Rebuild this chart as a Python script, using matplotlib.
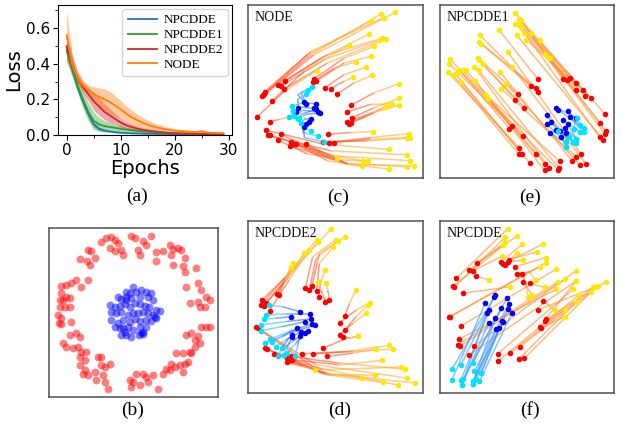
import matplotlib
matplotlib.use("Agg")
import matplotlib.pyplot as plt
import numpy as np
from matplotlib.collections import LineCollection
from matplotlib.colors import LinearSegmentedColormap
from matplotlib.ticker import MultipleLocator

# ---- (a) loss curves, mean and half band width per epoch ----
epochs = np.arange(30)
loss_npcdde = [0.49, 0.37, 0.27, 0.19, 0.12, 0.06, 0.035, 0.025, 0.02, 0.016, 0.013, 0.011, 0.01, 0.009, 0.008,
               0.007, 0.007, 0.006, 0.006, 0.005, 0.005, 0.005, 0.005, 0.004, 0.004, 0.004, 0.004, 0.004, 0.004, 0.004]
band_npcdde = [0.03, 0.02, 0.02, 0.02, 0.02, 0.015, 0.01, 0.008, 0.006, 0.005, 0.004, 0.004, 0.003, 0.003, 0.003,
               0.003, 0.003, 0.003, 0.003, 0.003, 0.003, 0.003, 0.003, 0.003, 0.003, 0.003, 0.003, 0.003, 0.003, 0.003]
loss_npcdde1 = [0.47, 0.38, 0.28, 0.2, 0.13, 0.08, 0.06, 0.05, 0.045, 0.04, 0.035, 0.03, 0.027, 0.024, 0.02,
                0.018, 0.016, 0.014, 0.012, 0.011, 0.01, 0.009, 0.008, 0.008, 0.007, 0.007, 0.006, 0.006, 0.006, 0.005]
band_npcdde1 = [0.06, 0.05, 0.04, 0.05, 0.05, 0.05, 0.04, 0.03, 0.025, 0.02, 0.018, 0.015, 0.012, 0.01, 0.009,
                0.008, 0.007, 0.006, 0.006, 0.005, 0.005, 0.005, 0.004, 0.004, 0.004, 0.004, 0.004, 0.004, 0.004, 0.004]
loss_npcdde2 = [0.5, 0.4, 0.32, 0.27, 0.23, 0.19, 0.16, 0.13, 0.11, 0.09, 0.07, 0.055, 0.045, 0.037, 0.03,
                0.025, 0.021, 0.018, 0.015, 0.012, 0.01, 0.009, 0.008, 0.007, 0.007, 0.006, 0.006, 0.006, 0.005, 0.005]
band_npcdde2 = [0.08, 0.05, 0.03, 0.03, 0.04, 0.05, 0.05, 0.045, 0.04, 0.03, 0.025, 0.02, 0.017, 0.014, 0.012,
                0.01, 0.008, 0.007, 0.006, 0.005, 0.005, 0.004, 0.004, 0.004, 0.004, 0.004, 0.004, 0.004, 0.004, 0.004]
loss_node = [0.56, 0.4, 0.32, 0.28, 0.25, 0.23, 0.215, 0.2, 0.185, 0.165, 0.145, 0.12, 0.1, 0.085, 0.07,
             0.058, 0.048, 0.04, 0.034, 0.029, 0.025, 0.022, 0.02, 0.018, 0.017, 0.02, 0.014, 0.012, 0.011, 0.01]
band_node = [0.14, 0.06, 0.04, 0.03, 0.03, 0.04, 0.05, 0.06, 0.06, 0.055, 0.05, 0.045, 0.04, 0.035, 0.03,
             0.026, 0.022, 0.019, 0.016, 0.013, 0.011, 0.01, 0.009, 0.008, 0.008, 0.012, 0.007, 0.006, 0.006, 0.006]
loss_names = ["NPCDDE", "NPCDDE1", "NPCDDE2", "NODE"]

# ---- (b) input data: two classes ----
blue_pts = [(400, 262), (380, 275), (392, 280), (410, 275), (425, 270), (440, 275), (455, 280), (355, 290),
            (365, 298), (380, 300), (395, 295), (420, 290), (445, 290), (460, 300), (330, 315), (345, 320),
            (360, 318), (375, 312), (390, 320), (405, 310), (420, 312), (435, 318), (448, 322), (470, 330),
            (480, 332), (335, 335), (350, 340), (365, 335), (385, 345), (400, 340), (415, 338), (430, 335),
            (445, 340), (465, 350), (470, 355), (335, 360), (355, 368), (370, 360), (390, 365), (405, 358),
            (420, 362), (440, 360), (455, 362), (370, 385), (385, 382), (400, 390), (420, 382), (430, 395),
            (440, 380), (365, 405), (380, 405), (395, 410), (418, 405), (430, 402), (345, 380), (460, 345),
            (375, 395), (425, 400), (360, 385), (380, 290)]
red_pts = [(305, 128), (320, 115), (335, 112), (345, 120), (355, 130), (330, 145), (345, 155), (365, 150),
           (370, 165), (395, 110), (405, 115), (430, 125), (440, 135), (455, 108), (415, 150), (420, 165),
           (470, 158), (490, 155), (470, 185), (510, 135), (520, 148), (535, 145), (545, 150), (515, 165),
           (520, 195), (555, 175), (550, 200), (555, 215), (590, 205), (265, 150), (275, 155), (285, 175),
           (240, 178), (262, 185), (270, 195), (265, 240), (230, 240), (215, 250), (200, 255), (185, 258),
           (245, 262), (185, 280), (200, 290), (210, 295), (190, 300), (180, 320), (195, 322), (210, 322),
           (175, 345), (185, 355), (178, 370), (215, 365), (185, 372), (210, 405), (230, 400), (240, 410),
           (190, 428), (200, 440), (220, 445), (235, 440), (245, 455), (240, 470), (255, 480), (260, 455),
           (240, 495), (250, 520), (265, 525), (285, 515), (295, 470), (305, 470), (305, 495), (315, 500),
           (330, 490), (310, 525), (315, 545), (290, 540), (325, 565), (390, 540), (400, 545), (410, 520),
           (430, 520), (440, 530), (420, 555), (395, 560), (445, 545), (460, 525), (475, 565), (490, 520),
           (500, 505), (510, 510), (515, 490), (525, 500), (540, 495), (550, 515), (555, 490), (565, 485),
           (570, 455), (530, 460), (550, 460), (575, 460), (585, 440), (600, 430), (595, 408), (605, 380),
           (620, 380), (630, 380), (575, 400), (560, 405), (585, 420), (560, 262), (570, 310), (595, 305),
           (600, 320), (615, 320), (620, 290), (630, 300), (605, 270), (595, 250), (180, 300), (255, 510)]

# ---- (c) NODE trajectories: start, bend, end ----
node_red = [
    [(45, 272), (190, 150), (400, 28)], [(42, 276), (200, 150), (445, 22)], [(50, 262), (190, 140), (410, 38)],
    [(48, 268), (180, 150), (372, 48)], [(92, 242), (220, 160), (365, 88)], [(100, 244), (230, 165), (398, 105)],
    [(112, 228), (240, 150), (405, 100)], [(108, 254), (240, 175), (415, 103)], [(72, 290), (170, 200), (305, 120)],
    [(28, 337), (110, 260), (208, 198)], [(200, 222), (290, 160), (380, 125)], [(205, 230), (290, 175), (372, 155)],
    [(195, 232), (260, 190), (325, 172)], [(232, 250), (290, 210), (355, 188)], [(250, 252), (290, 230), (318, 218)],
    [(270, 268), (320, 235), (375, 212)], [(312, 302), (380, 265), (455, 238)], [(300, 322), (370, 300), (435, 298)],
    [(315, 340), (380, 310), (455, 282)], [(300, 352), (360, 330), (420, 305)], [(305, 358), (360, 335), (412, 308)],
    [(310, 355), (380, 325), (455, 302)], [(65, 352), (95, 345), (123, 337)], [(55, 378), (230, 420), (425, 436)],
    [(60, 393), (250, 440), (480, 452)], [(65, 393), (260, 455), (490, 470)], [(90, 408), (180, 450), (270, 462)],
    [(100, 390), (230, 450), (346, 470)], [(130, 412), (250, 465), (362, 472)], [(128, 425), (300, 480), (500, 485)],
    [(145, 420), (240, 470), (345, 487)], [(175, 420), (300, 480), (425, 495)], [(140, 418), (300, 478), (480, 488)],
    [(240, 390), (310, 385), (376, 382)], [(243, 415), (370, 400), (487, 388)], [(258, 415), (370, 405), (480, 400)],
    [(225, 412), (360, 410), (490, 402)]]
node_blue = [
    [(168, 292), (150, 270), (180, 255)], [(175, 298), (160, 265), (192, 248)], [(150, 310), (150, 285), (175, 270)],
    [(205, 298), (165, 295), (133, 305)], [(200, 312), (160, 308), (135, 320)], [(210, 322), (165, 318), (140, 335)],
    [(218, 325), (175, 330), (155, 340)], [(145, 322), (135, 328), (125, 338)], [(190, 345), (170, 345), (160, 355)],
    [(185, 352), (165, 370), (190, 380)], [(175, 358), (165, 385), (210, 395)], [(168, 368), (170, 400), (228, 412)],
    [(205, 315), (160, 330), (150, 345)]]

# ---- (d) NPCDDE2 trajectories ----
npc2_red = [
    [(100, 300), (200, 200), (305, 85)], [(96, 315), (180, 220), (262, 118)], [(105, 318), (180, 230), (265, 125)],
    [(122, 332), (180, 240), (238, 150)], [(110, 310), (170, 240), (225, 158)], [(145, 282), (170, 235), (192, 188)],
    [(150, 285), (165, 245), (185, 200)], [(228, 265), (250, 170), (320, 118)], [(240, 270), (260, 175), (325, 122)],
    [(248, 258), (270, 160), (345, 110)], [(262, 272), (270, 190), (312, 140)], [(268, 290), (275, 240), (288, 210)],
    [(288, 305), (275, 270), (265, 245)], [(300, 300), (295, 270), (290, 248)], [(345, 348), (360, 310), (378, 270)],
    [(330, 368), (380, 330), (420, 308)], [(345, 390), (380, 350), (415, 315)], [(330, 405), (370, 370), (408, 340)],
    [(340, 410), (360, 415), (385, 408)], [(82, 382), (250, 500), (505, 557)], [(88, 385), (260, 495), (530, 535)],
    [(108, 445), (280, 520), (555, 550)], [(115, 448), (280, 510), (512, 502)], [(135, 462), (290, 525), (460, 548)],
    [(175, 475), (300, 525), (435, 525)], [(178, 485), (290, 520), (397, 535)], [(175, 488), (220, 500), (258, 510)],
    [(185, 470), (330, 490), (525, 508)], [(190, 480), (330, 495), (455, 482)], [(218, 462), (350, 455), (478, 436)],
    [(252, 462), (370, 455), (490, 448)], [(292, 470), (370, 460), (438, 447)], [(280, 445), (340, 420), (385, 408)]]
npc2_blue = [
    [(212, 335), (160, 320), (120, 315)], [(242, 342), (170, 342), (112, 345)], [(185, 350), (140, 355), (105, 358)],
    [(245, 357), (170, 365), (97, 375)], [(228, 365), (160, 380), (98, 392)], [(248, 372), (180, 395), (122, 418)],
    [(258, 375), (180, 400), (108, 430)], [(205, 385), (160, 410), (130, 425)], [(215, 395), (170, 420), (140, 440)],
    [(228, 398), (190, 425), (160, 445)], [(235, 392), (200, 430), (175, 460)], [(212, 408), (205, 440), (198, 468)],
    [(188, 405), (160, 440), (148, 470)], [(190, 410), (175, 440), (165, 465)]]

# ---- (e) NPCDDE1 trajectories ----
npc1_red = [
    [(400, 237), (258, 38)], [(412, 238), (268, 55)], [(420, 232), (275, 58)], [(440, 248), (305, 98)],
    [(440, 268), (258, 70)], [(460, 268), (270, 72)], [(465, 288), (275, 80)], [(485, 293), (290, 118)],
    [(525, 340), (330, 120)], [(512, 368), (345, 160)], [(528, 392), (360, 172)], [(525, 400), (355, 170)],
    [(510, 410), (285, 98)], [(520, 418), (262, 105)], [(325, 237), (210, 90)], [(305, 258), (152, 105)],
    [(318, 262), (150, 125)], [(325, 275), (155, 130)], [(265, 280), (145, 172)], [(258, 298), (150, 180)],
    [(285, 322), (160, 190)], [(240, 385), (63, 176)], [(248, 378), (60, 190)], [(280, 408), (88, 208)],
    [(270, 443), (55, 215)], [(268, 462), (72, 225)], [(278, 462), (80, 222)], [(318, 462), (100, 210)],
    [(300, 487), (95, 245)], [(345, 490), (110, 210)], [(358, 502), (135, 200)], [(345, 510), (138, 242)],
    [(388, 503), (148, 210)], [(390, 482), (170, 285)], [(385, 508), (175, 295)], [(428, 482), (212, 215)],
    [(455, 462), (235, 155)], [(452, 495), (230, 250)], [(470, 492), (248, 200)], [(440, 470), (215, 265)]]
npc1_blue = [
    [(380, 322), (442, 353)], [(385, 328), (450, 375)], [(415, 333), (462, 383)], [(352, 345), (385, 392)],
    [(400, 360), (452, 395)], [(420, 350), (462, 395)], [(415, 372), (440, 415)], [(440, 352), (432, 385)],
    [(352, 372), (408, 425)], [(365, 365), (418, 410)], [(380, 388), (440, 428)], [(392, 392), (430, 425)],
    [(405, 383), (440, 415)], [(410, 398), (410, 440)], [(360, 398), (408, 425)], [(395, 410), (410, 440)]]

# ---- (f) NPCDDE trajectories ----
npc_red = [
    [(80, 235), (235, 85)], [(75, 262), (228, 110)], [(72, 258), (222, 135)], [(120, 210), (228, 125)],
    [(130, 212), (218, 168)], [(142, 188), (262, 108)], [(140, 228), (180, 240)], [(215, 185), (278, 132)],
    [(222, 190), (340, 132)], [(238, 178), (322, 155)], [(235, 185), (282, 180)], [(228, 195), (262, 158)],
    [(258, 200), (348, 172)], [(262, 222), (300, 215), (318, 240)], [(278, 222), (290, 255), (296, 292)],
    [(282, 245), (308, 285)], [(302, 250), (345, 262)], [(100, 280), (242, 260)], [(58, 352), (348, 188)],
    [(62, 350), (330, 200)], [(95, 378), (378, 208)], [(88, 418), (380, 268)], [(92, 438), (405, 238)],
    [(85, 435), (385, 245)], [(120, 465), (440, 242)], [(135, 438), (438, 212)], [(205, 462), (430, 268)],
    [(205, 485), (448, 285)], [(242, 460), (490, 262)], [(272, 440), (485, 275)], [(268, 478), (440, 305)],
    [(285, 475), (498, 262)], [(325, 330), (505, 258)], [(330, 380), (405, 330)], [(335, 385), (405, 350)],
    [(345, 362), (528, 245)], [(340, 302), (375, 330)], [(348, 358), (440, 242)]]
npc_blue = [
    [(198, 285), (68, 508)], [(195, 290), (95, 495)], [(168, 308), (68, 540)], [(180, 330), (95, 540)],
    [(172, 338), (98, 555)], [(232, 295), (130, 490)], [(238, 312), (135, 515)], [(235, 328), (155, 520)],
    [(248, 338), (150, 545)], [(215, 325), (102, 538)], [(198, 355), (130, 552)], [(218, 362), (140, 538)],
    [(222, 365), (130, 545)], [(178, 368), (98, 555)], [(200, 388), (130, 552)], [(210, 385), (155, 520)]]

SERIF = "Liberation Serif"
red_cmap = LinearSegmentedColormap.from_list("ry", ["#ff1a1a", "#ff9030", "#ffc840"])
blue_cmap = LinearSegmentedColormap.from_list("bc", ["#1a3cff", "#3a98ff", "#30d8ff"])


def draw_trajectories(ax, trajs, cmap, start_color, end_color):
    segs, cols = [], []
    for t in trajs:
        n = len(t)
        for i in range(n - 1):
            segs.append([t[i], t[i + 1]])
            cols.append(cmap((i + 0.5) / (n - 1)))
    ax.add_collection(LineCollection(segs, colors=cols, linewidths=1.1, alpha=0.6, zorder=2))
    ax.scatter([t[0][0] for t in trajs], [t[0][1] for t in trajs], s=16, color=start_color, lw=0, zorder=3)
    ax.scatter([t[-1][0] for t in trajs], [t[-1][1] for t in trajs], s=16, color=end_color, lw=0, zorder=3)


def panel(rect, lims, title=None):
    ax = fig.add_axes(rect)
    ax.set_xlim(lims[0], lims[1])
    ax.set_ylim(lims[3], lims[2])
    ax.set_xticks([])
    ax.set_yticks([])
    for s in ax.spines.values():
        s.set_color("#505050")
        s.set_linewidth(1.1)
    if title:
        ax.text(0.04, 0.965, title, transform=ax.transAxes, ha="left", va="top",
                fontsize=10, family=SERIF, color="#111111")
    return ax


fig = plt.figure(figsize=(6.21, 4.29), dpi=100)
W, H = 621.0, 429.0

# (a) loss
ax = fig.add_axes([58 / W, 1 - 135 / H, 174 / W, 130 / H])
colors = ["tab:blue", "tab:green", "tab:red", "tab:orange"]
means = [loss_npcdde, loss_npcdde1, loss_npcdde2, loss_node]
bands = [band_npcdde, band_npcdde1, band_npcdde2, band_node]
for name, c, m, b in zip(loss_names, colors, means, bands):
    m = np.array(m)
    b = np.array(b)
    ax.fill_between(epochs, m - b, m + b, color=c, alpha=0.4, lw=0)
    ax.plot(epochs, m, color=c, lw=1.3, label=name)
ax.set_xlim(-1.6, 30.6)
ax.set_ylim(0, 0.73)
ax.set_xticks([0, 10, 20, 30])
ax.set_yticks([0.0, 0.2, 0.4, 0.6])
ax.xaxis.set_minor_locator(MultipleLocator(5))
ax.yaxis.set_minor_locator(MultipleLocator(0.1))
ax.tick_params(labelsize=11, pad=2)
ax.set_xlabel("Epochs", fontsize=14, labelpad=1)
ax.set_ylabel("Loss", fontsize=14, labelpad=2)
ax.legend(loc="upper right", prop={"family": SERIF, "size": 9.5}, labelspacing=0.2,
          borderpad=0.4, handlelength=2.2, handletextpad=0.5, borderaxespad=0.3)

# (c) NODE
ax = panel([248 / W, 1 - 178 / H, 175 / W, 173 / H], (0, 528, 0, 522), "NODE")
draw_trajectories(ax, node_red, red_cmap, "#ff0000", "#ffe800")
draw_trajectories(ax, node_blue, blue_cmap, "#0000f0", "#00e0ff")

# (e) NPCDDE1
ax = panel([440 / W, 1 - 178 / H, 174 / W, 173 / H], (32, 553, 14, 533), "NPCDDE1")
draw_trajectories(ax, npc1_red, red_cmap, "#ff0000", "#ffe800")
draw_trajectories(ax, npc1_blue, blue_cmap, "#0000f0", "#00e0ff")

# (b) data
ax = panel([49 / W, 1 - 397 / H, 169 / W, 169 / H], (148, 655, 85, 590))
ax.scatter([p[0] for p in red_pts], [p[1] for p in red_pts], s=32, color="#ff0000", alpha=0.5, lw=0)
ax.scatter([p[0] for p in blue_pts], [p[1] for p in blue_pts], s=32, color="#0000ff", alpha=0.5, lw=0)

# (d) NPCDDE2
ax = panel([248 / W, 1 - 393 / H, 175 / W, 172 / H], (58, 578, 62, 580), "NPCDDE2")
draw_trajectories(ax, npc2_red, red_cmap, "#ff0000", "#ffe800")
draw_trajectories(ax, npc2_blue, blue_cmap, "#0000f0", "#00e0ff")

# (f) NPCDDE
ax = panel([440 / W, 1 - 393 / H, 174 / W, 172 / H], (32, 553, 62, 580), "NPCDDE")
draw_trajectories(ax, npc_red, red_cmap, "#ff0000", "#ffe800")
draw_trajectories(ax, npc_blue, blue_cmap, "#0000f0", "#00e0ff")

# sub-figure labels
for lab, x, y in [("(a)", 137, 196), ("(c)", 338, 197), ("(e)", 530, 197),
                  ("(b)", 133, 410), ("(d)", 340, 410), ("(f)", 530, 410)]:
    fig.text(x / W, 1 - y / H, lab, ha="center", va="center", fontsize=14, family=SERIF)

fig.savefig("out.png", dpi=100)
